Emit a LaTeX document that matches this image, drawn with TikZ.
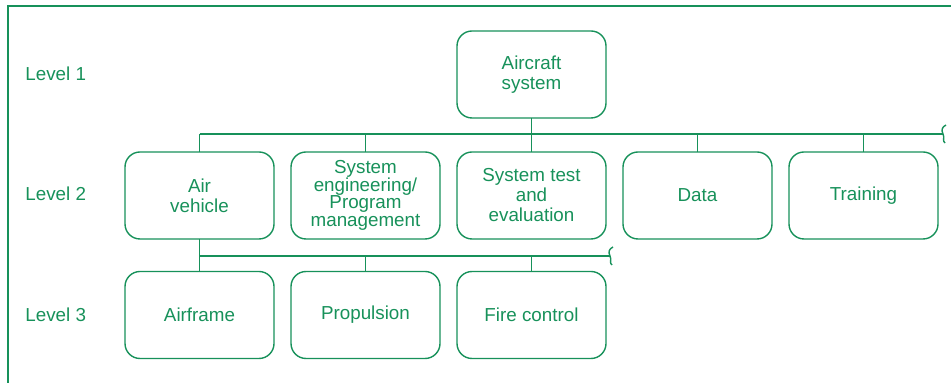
\documentclass[tikz,border=0pt]{standalone}
\usepackage{fontspec}
\setmainfont{Liberation Sans}
\usepackage{xcolor}
\usetikzlibrary{positioning, calc}
\definecolor{wbsgreen}{HTML}{17915A}
\tikzset{
  wbsbox/.style={draw=wbsgreen, rounded corners=7.5pt, line width=0.7pt, align=center,
                 text=wbsgreen, minimum width=74.5pt, minimum height=43.5pt, inner sep=2pt,
                 outer sep=0pt, font=\fontsize{9.4}{10}\selectfont},
  tightbox/.style={wbsbox, font=\fontsize{9.4}{8.8}\selectfont},
  levellbl/.style={text=wbsgreen, anchor=west, inner sep=0pt, font=\fontsize{9.4}{10}\selectfont},
  link/.style={draw=wbsgreen, line width=0.7pt},
  frame/.style={draw=wbsgreen, line width=0.8pt},
}

\begin{document}
\begin{tikzpicture}[x=0.5pt, y=-0.5pt, node distance=8.5pt]
  \useasboundingbox (0,0) rectangle (951,383);
  \draw[frame] (8,383) -- (8,6) -- (951,6);

  % level labels
  \node[levellbl] (lvlone) at (25,74) {Level 1};
  \node[levellbl] (lvltwo) at (25,194) {Level 2};
  \node[levellbl] (lvlthree) at (25,315) {Level 3};

  % level 1
  \node[wbsbox] (aircraft) at (531.5,74.5) {Aircraft\\system};

  % level 2
  \node[wbsbox] (airveh) at (199.5,195.5) {Air\\vehicle};
  \node[tightbox, right=of airveh] (syseng) {System\\engineering/\\Program\\management};
  \node[wbsbox, right=of syseng] (systest) {System test\\and\\evaluation};
  \node[wbsbox, right=of systest] (data) {Data};
  \node[wbsbox, right=of data] (training) {Training};

  % level 3
  \node[wbsbox] (airframe) at (199.5,315) {Airframe};
  \node[wbsbox, right=of airframe] (propulsion) {Propulsion};
  \node[wbsbox, right=of propulsion] (firectl) {Fire control};

  % level 2 bus
  \coordinate (bustwo) at (airveh.north |- 0,134);
  \coordinate (bustwoend) at (943,134);
  \draw[link] (bustwo) -- (bustwoend);
  \draw[link] (aircraft.south) -- (aircraft.south |- bustwo);
  \foreach \n in {airveh, syseng, systest, data, training}
    \draw[link] (\n.north) -- (\n.north |- bustwo);
  \draw[link] ($(bustwoend)+(3,-9)$) .. controls +(-4,2) and +(-2,-4) .. (bustwoend)
    .. controls +(2,4) and +(-3,-2) .. ($(bustwoend)+(2,9)$);

  % level 3 bus
  \coordinate (busthree) at (airveh.south |- 0,256);
  \coordinate (busthreeend) at (610,256);
  \draw[link] (airveh.south) -- (busthree) -- (busthreeend);
  \foreach \n in {airframe, propulsion, firectl}
    \draw[link] (\n.north) -- (\n.north |- busthree);
  \draw[link] ($(busthreeend)+(3,-9)$) .. controls +(-4,2) and +(-2,-4) .. (busthreeend)
    .. controls +(2,4) and +(-3,-2) .. ($(busthreeend)+(2,9)$);
\end{tikzpicture}
\end{document}
